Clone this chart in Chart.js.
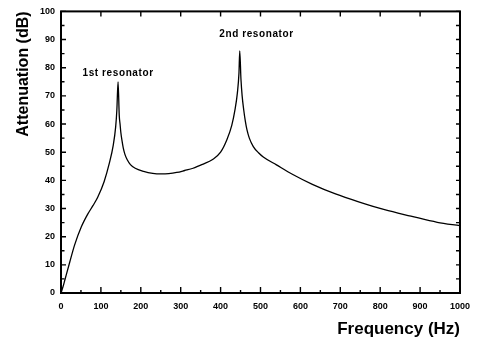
<!DOCTYPE html>
<html><head><meta charset="utf-8">
<script src="https://cdn.jsdelivr.net/npm/chart.js@4"></script>
<style>html,body{margin:0;padding:0;background:#fff}#wrap{width:478px;height:352px}</style>
</head><body><div id="wrap"><canvas id="c" width="478" height="352"></canvas></div>
<script>
// Frequency (Hz) sample points
const frequencyHz = [0, 5, 10, 22, 34, 51, 67, 80, 92, 108, 121, 131, 137, 140, 143, 146, 148, 150, 153, 156, 160, 166, 174, 186, 207, 230, 250, 270, 290, 310, 331, 355, 380, 400, 416, 428, 436, 442, 446, 448, 451, 454, 458, 462, 466, 472, 482, 495, 507, 540, 581, 630, 688, 746, 811, 877, 943, 1000];
// Attenuation (dB) at each frequency
const attenuationDb = [0, 2.2, 4.8, 11, 17, 23.5, 28, 31, 34, 39.5, 46, 52.5, 59, 65, 75, 63, 60, 57, 54, 51.5, 49.3, 47.3, 45.6, 44.3, 43.2, 42.5, 42.3, 42.4, 42.8, 43.5, 44.3, 45.7, 47.4, 50, 54.5, 59.5, 65, 71, 78, 86, 76, 70, 65, 61, 58, 55, 52, 49.8, 48.3, 45.5, 42.1, 38.6, 35.2, 32.4, 29.6, 27.3, 25.1, 23.9];
const xTickLabels = [0, 100, 200, 300, 400, 500, 600, 700, 800, 900, 1000];
const yTickLabels = [0, 10, 20, 30, 40, 50, 60, 70, 80, 90, 100];
const peakLabels = ['1st resonator', '2nd resonator'];
const peakLabelAnchors = [[143, 78], [490, 92]];

const FONT = "'Liberation Sans', Arial, Helvetica, sans-serif";

const framePlugin = {
  id: 'frame',
  afterDraw(chart) {
    const ctx = chart.ctx;
    const xs = chart.scales.x, ys = chart.scales.y;
    const {left, right, top, bottom} = chart.chartArea;
    ctx.save();
    ctx.strokeStyle = '#000';
    ctx.lineWidth = 2;
    ctx.strokeRect(left, top, right - left, bottom - top);
    ctx.lineWidth = 1.4;
    ctx.beginPath();
    const xMin = xTickLabels[0], xMax = xTickLabels[xTickLabels.length - 1];
    for (let v = xMin; v <= xMax; v += 50) {
      const px = xs.getPixelForValue(v);
      const major = xTickLabels.includes(v);
      ctx.moveTo(px, bottom); ctx.lineTo(px, bottom - (major ? 6 : 3));
      if (major) { ctx.moveTo(px, top); ctx.lineTo(px, top + 5); }
    }
    const yMin = yTickLabels[0], yMax = yTickLabels[yTickLabels.length - 1];
    for (let v = yMin; v <= yMax; v += 5) {
      const py = ys.getPixelForValue(v);
      const major = yTickLabels.includes(v);
      ctx.moveTo(left, py); ctx.lineTo(left + (major ? 5 : 3.5), py);
      ctx.moveTo(right, py); ctx.lineTo(right - 4, py);
    }
    ctx.stroke();
    ctx.fillStyle = '#000';
    ctx.font = 'bold 10px ' + FONT;
    ctx.textAlign = 'center';
    ctx.textBaseline = 'middle';
    try { ctx.letterSpacing = '0.6px'; } catch (e) {}
    peakLabels.forEach((t, i) => {
      const [fx, fy] = peakLabelAnchors[i];
      ctx.fillText(t, xs.getPixelForValue(fx), ys.getPixelForValue(fy));
    });
    ctx.restore();
  }
};

new Chart(document.getElementById('c'), {
  type: 'line',
  data: {
    datasets: [{
      data: frequencyHz.map((f, i) => ({x: f, y: attenuationDb[i]})),
      borderColor: '#000',
      borderWidth: 1.3,
      pointRadius: 0,
      fill: false,
      cubicInterpolationMode: 'monotone'
    }]
  },
  options: {
    responsive: false,
    devicePixelRatio: 1,
    animation: false,
    layout: {padding: {left: 0, right: 11, top: 10, bottom: 0}},
    plugins: {legend: {display: false}, tooltip: {enabled: false}},
    scales: {
      x: {
        type: 'linear',
        min: xTickLabels[0], max: xTickLabels[xTickLabels.length - 1],
        grid: {display: false, drawTicks: false},
        border: {display: false},
        ticks: {stepSize: 100, autoSkip: false, maxRotation: 0, padding: 8, color: '#000',
                callback: v => String(v),
                font: {family: FONT, size: 9, weight: 'bold'}},
        title: {display: true, text: 'Frequency (Hz)', align: 'end', color: '#000',
                font: {family: FONT, size: 17, weight: 'bold'}, padding: {top: 0, bottom: 12}},
        afterFit(s) { s.height = 59; }
      },
      y: {
        type: 'linear',
        min: yTickLabels[0], max: yTickLabels[yTickLabels.length - 1],
        grid: {display: false, drawTicks: false},
        border: {display: false},
        ticks: {stepSize: 10, padding: 6, color: '#000',
                callback: v => String(v),
                font: {family: FONT, size: 9, weight: 'bold'}},
        title: {display: true, text: 'Attenuation (dB)', align: 'end', color: '#000',
                font: {family: FONT, size: 16, weight: 'bold'}, padding: {top: 14, bottom: 0}},
        afterFit(s) { s.width = 61; }
      }
    }
  },
  plugins: [framePlugin]
});
</script>
</body></html>
